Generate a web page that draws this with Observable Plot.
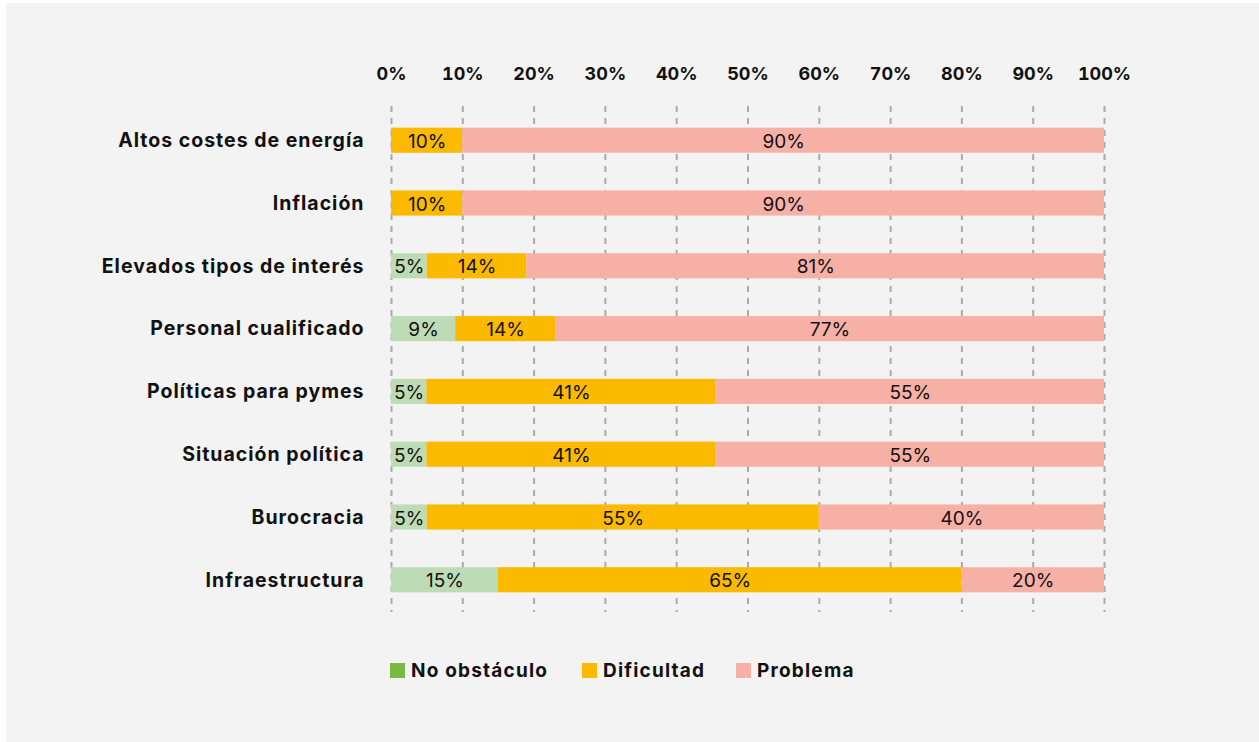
<!DOCTYPE html>
<html>
<head>
<meta charset="utf-8">
<script src="https://cdn.jsdelivr.net/npm/d3@7"></script>
<script src="https://cdn.jsdelivr.net/npm/@observablehq/plot@0.6"></script>
<style>
  html, body { margin: 0; padding: 0; background: #ffffff; width: 1259px; height: 742px; overflow: hidden; }
  #panel { position: absolute; left: 6px; top: 3px; right: 0; bottom: 0; background: #f2f3f2; }
  #chart { position: absolute; left: 0; top: 0; }
  #chart g[aria-label="y-axis tick label"] text { letter-spacing: 1px; }
  #legend { position: absolute; left: 0; top: 658px; width: 1259px; height: 24px;
            font-family: Inter, "Open Sans", sans-serif; font-weight: 700; font-size: 19px;
            letter-spacing: 1.2px; color: #111; }
  .item { position: absolute; top: 0; display: flex; align-items: center; height: 24px; white-space: nowrap; }
  .sw { width: 15px; height: 15px; margin-right: 6px; }
</style>
</head>
<body>
<div id="panel"></div>
<div id="chart"></div>
<div id="legend"></div>
<script>
const categories = ["Altos costes de energía", "Inflación", "Elevados tipos de interés", "Personal cualificado",
                    "Políticas para pymes", "Situación política", "Burocracia", "Infraestructura"];
const series = ["No obstáculo", "Dificultad", "Problema"];
const noObstaculo = [0, 0, 5, 9, 5, 5, 5, 15];
const dificultad  = [10, 10, 14, 14, 41, 41, 55, 65];
const problema    = [90, 90, 81, 77, 55, 55, 40, 20];
const tickValues  = [0, 10, 20, 30, 40, 50, 60, 70, 80, 90, 100];
const barColors    = ["#bddcb5", "#fbb900", "#f6b0a6"];
const legendColors = ["#7aba44", "#fbb900", "#f6b0a6"];
const legendLeft   = [390, 582, 736];

const values = [noObstaculo, dificultad, problema];
const data = categories.flatMap((cat, i) =>
  series.map((s, j) => ({cat, series: s, value: values[j][i]})));

const font = "Inter, 'Open Sans', sans-serif";

const chart = Plot.plot({
  width: 1259,
  height: 640,
  marginLeft: 391,
  marginRight: 155,
  marginTop: 90,
  marginBottom: 10,
  style: {background: "transparent", fontFamily: font, fontSize: "18px", color: "#111"},
  x: {domain: [0, 1], axis: null, label: null},
  y: {domain: categories, padding: 0.6, round: false, axis: null, label: null},
  color: {domain: series, range: barColors},
  marks: [
    Plot.ruleX(tickValues, {x: d => d / 100, stroke: "#aaaaaa", strokeWidth: 2,
      strokeDasharray: "6,6", insetTop: 16, insetBottom: 18}),
    Plot.barX(data, Plot.stackX({x: "value", y: "cat", fill: "series", offset: "normalize", order: series})),
    Plot.text(data, Plot.stackX({x: "value", y: "cat", z: "series", offset: "normalize", order: series,
      filter: d => d.value > 0, text: d => d.value + "%", fill: "#111", fontSize: 19, dy: 1})),
    Plot.axisX(tickValues.map(d => d / 100), {anchor: "top", tickSize: 0, tickPadding: 11, label: null,
      tickFormat: d => Math.round(d * 100) + "%", fontWeight: 700, fontSize: 18, fill: "#111"}),
    Plot.axisY({tickSize: 0, tickPadding: 27, label: null, fontWeight: 700, fontSize: 19.5, fill: "#111"})
  ]
});
document.getElementById("chart").appendChild(chart);

const legend = document.getElementById("legend");
series.forEach((s, i) => {
  const item = document.createElement("div");
  item.className = "item";
  item.style.left = legendLeft[i] + "px";
  const sw = document.createElement("div");
  sw.className = "sw";
  sw.style.background = legendColors[i];
  const label = document.createElement("span");
  label.textContent = s;
  item.appendChild(sw);
  item.appendChild(label);
  legend.appendChild(item);
});
</script>
</body>
</html>
